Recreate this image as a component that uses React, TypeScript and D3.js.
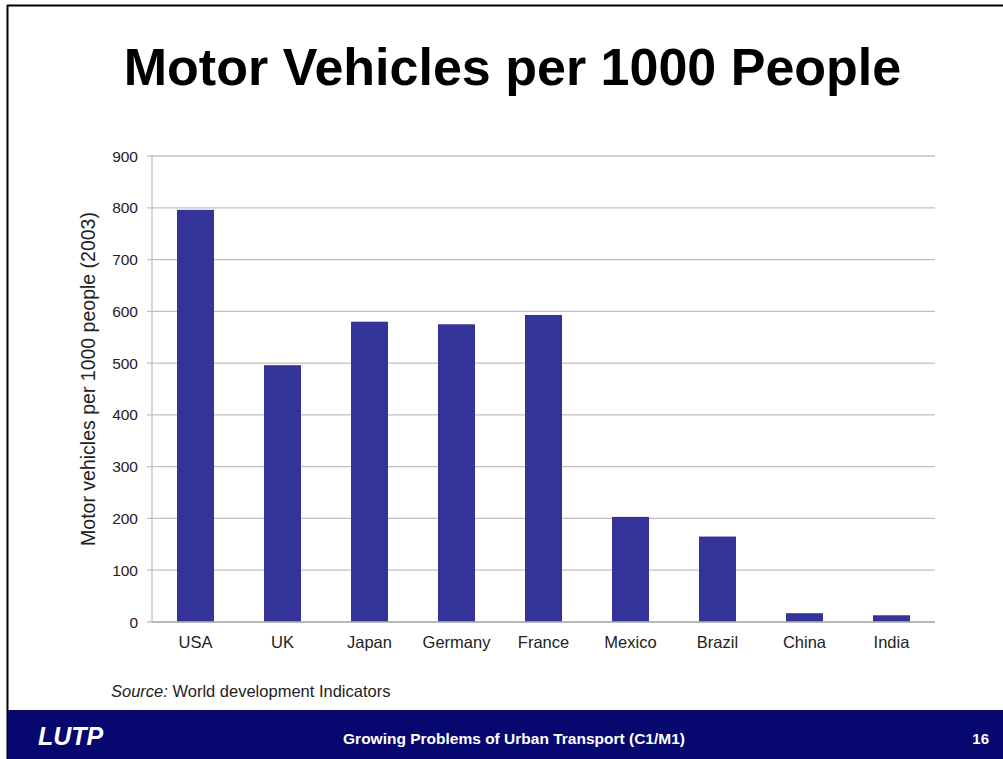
import React from "react";
import * as d3 from "d3";

const categories = ["USA", "UK", "Japan", "Germany", "France", "Mexico", "Brazil", "China", "India"];
const values = [796, 496, 580, 575, 593, 203, 165, 17, 13];
const yTicks = [0, 100, 200, 300, 400, 500, 600, 700, 800, 900];

const W = 1003;
const H = 759;
const plot = { left: 152, right: 935, top: 156, bottom: 622 };

export default function App() {
  const x = d3.scaleBand<string>().domain(categories).range([plot.left, plot.right]).paddingInner(0.575).paddingOuter(0.2875);
  const y = d3.scaleLinear().domain([0, 900]).range([plot.bottom, plot.top]);
  const font = "Arial, 'Liberation Sans', Helvetica, sans-serif";
  return (
    <svg width={W} height={H} style={{ position: "absolute", left: 0, top: 0, display: "block" }} fontFamily={font}>
      <rect x={0} y={0} width={W} height={H} fill="#fff" />
      {/* frame */}
      <line x1={7.5} y1={5} x2={7.5} y2={H} stroke="#000" strokeWidth={2} />
      <line x1={7} y1={5.5} x2={W} y2={5.5} stroke="#000" strokeWidth={2} />
      <text x={512.5} y={85} textAnchor="middle" fontSize={52} fontWeight="bold" fill="#000">
        Motor Vehicles per 1000 People
      </text>
      {/* gridlines */}
      {yTicks.map((t) => (
        <g key={t}>
          <line x1={plot.left - 5} x2={plot.right} y1={y(t)} y2={y(t)} stroke="#c0c0c0" strokeWidth={1.3} />
          <text x={138} y={y(t) + 5.5} textAnchor="end" fontSize={15.5} fill="#222">{t}</text>
        </g>
      ))}
      <line x1={plot.left} x2={plot.left} y1={plot.top} y2={plot.bottom} stroke="#c0c0c0" strokeWidth={1.3} />
      {categories.map((c, i) => (
        <g key={c}>
          <rect x={x(c)} y={y(values[i])} width={x.bandwidth()} height={y(0) - y(values[i])} fill="#333399" />
          <text x={(x(c) as number) + x.bandwidth() / 2} y={648} textAnchor="middle" fontSize={16.5} fill="#222">{c}</text>
        </g>
      ))}
      <line x1={plot.left} x2={plot.right} y1={plot.bottom} y2={plot.bottom} stroke="#b0b0b0" strokeWidth={1.3} />
      <text transform={`translate(95,379) rotate(-90)`} textAnchor="middle" fontSize={19.5} fill="#222">
        Motor vehicles per 1000 people (2003)
      </text>
      <text x={111} y={697} fontSize={16.5} fill="#222">
        <tspan fontStyle="italic">Source:</tspan> World development Indicators
      </text>
      {/* footer */}
      <rect x={8} y={710} width={W - 8} height={H - 710} fill="#070770" />
      <text x={38} y={745} fontSize={25} fontWeight="bold" fontStyle="italic" fill="#fff">LUTP</text>
      <text x={514} y={744} textAnchor="middle" fontSize={15.5} fontWeight="bold" fill="#fff">
        Growing Problems of Urban Transport (C1/M1)
      </text>
      <text x={989} y={744} textAnchor="end" fontSize={15} fontWeight="bold" fill="#fff">16</text>
    </svg>
  );
}
